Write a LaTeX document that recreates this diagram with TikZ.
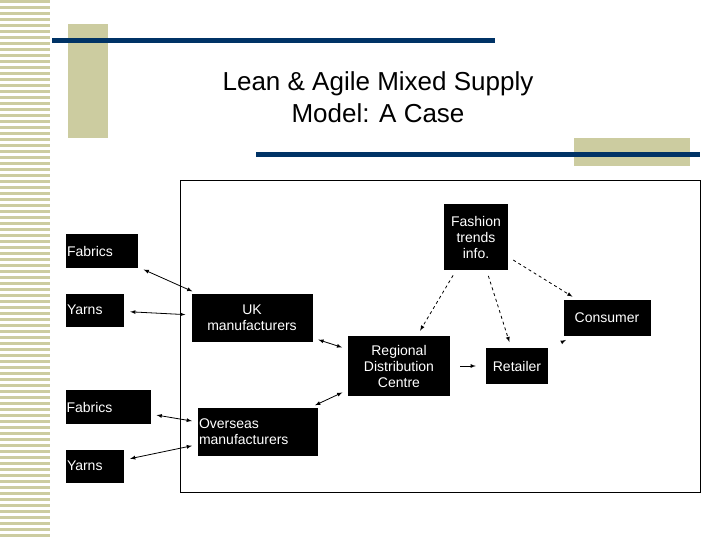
\documentclass[tikz,border=0pt]{standalone}
\usepackage{fontspec}
\setmainfont{Liberation Sans}
\definecolor{beige}{RGB}{204,204,160}
\definecolor{navy}{RGB}{0,51,102}
\tikzset{
  box/.style={fill=black,text=white,align=center,inner sep=1pt,font=\fontsize{14pt}{16pt}\selectfont},
  link/.style={thick,<->,>=latex,shorten >=6pt,shorten <=6pt},
  info/.style={thick,->,>=latex,dashed,shorten >=6pt,shorten <=6pt}
}
\begin{document}
\begin{tikzpicture}[x=1pt,y=-1pt]
\useasboundingbox (0,0) rectangle (720,540);
% side stripes
\foreach \j in {0,6,...,534}
{
	\fill[beige] (0,\j) rectangle (50,{\j+3});
}
\fill[beige] (68,24) rectangle (108,138);
\fill[beige] (574,138) rectangle (690,166);
\fill[navy] (52,38) rectangle (495,43);
\fill[navy] (256,152) rectangle (700,157);
\node[font=\fontsize{26pt}{32pt}\selectfont,align=center] (title) at (378,97) {Lean \& Agile Mixed Supply\\Model: A Case};
\draw (180,180) rectangle (700,492);
% nodes
\node[box,minimum width=72pt,minimum height=34pt,text width=70pt,align=left] (fab1) at (102,251) {Fabrics};
\node[box,minimum width=58pt,minimum height=33pt,text width=56pt,align=left] (yarn1) at (95,310) {Yarns};
\node[box,minimum width=121pt,minimum height=48pt] (uk) at (252,318) {UK\\manufacturers};
\node[box,minimum width=85pt,minimum height=34pt,text width=83pt,align=left] (fab2) at (108,407) {Fabrics};
\node[box,minimum width=58pt,minimum height=33pt,text width=56pt,align=left] (yarn2) at (95,466) {Yarns};
\node[box,minimum width=120pt,minimum height=48pt,text width=118pt,align=left] (os) at (258,432) {Overseas\\manufacturers};
\node[box,minimum width=64pt,minimum height=66pt] (fash) at (476,237) {Fashion\\trends\\info.};
\node[box,minimum width=102pt,minimum height=60pt] (rdc) at (399,366) {Regional\\Distribution\\Centre};
\node[box,minimum width=62pt,minimum height=36pt] (ret) at (517,366) {Retailer};
\node[box,minimum width=87pt,minimum height=36pt] (con) at (607,318) {Consumer};
% links
\draw[link] (fab1) -- (uk);
\draw[link] (yarn1) -- (uk);
\draw[link] (uk) -- (rdc);
\draw[link] (fab2) -- (os);
\draw[link] (yarn2) -- (os);
\draw[link] (rdc) -- (os);
\draw[thick,->,>=latex,shorten >=10pt,shorten <=10pt] (rdc) -- (ret);
\draw[thick,->,>=latex,shorten >=8pt,shorten <=18pt] (ret) -- (con);
\draw[info] (fash) -- (rdc);
\draw[info] (fash) -- (ret);
\draw[info] (fash) -- (con);
\end{tikzpicture}
\end{document}
